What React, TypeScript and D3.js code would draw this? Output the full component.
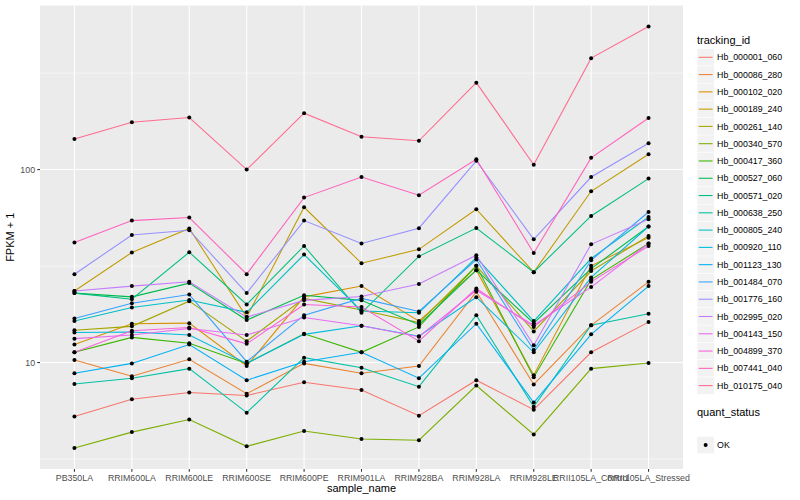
import React, { useEffect, useRef } from 'react';
import * as d3 from 'd3';

const samples = [
  'PB350LA',
  'RRIM600LA',
  'RRIM600LE',
  'RRIM600SE',
  'RRIM600PE',
  'RRIM901LA',
  'RRIM928BA',
  'RRIM928LA',
  'RRIM928LE',
  'RRII105LA_Control',
  'RRII105LA_Stressed',
];

const trackingIds = [
  'Hb_000001_060',
  'Hb_000086_280',
  'Hb_000102_020',
  'Hb_000189_240',
  'Hb_000261_140',
  'Hb_000340_570',
  'Hb_000417_360',
  'Hb_000527_060',
  'Hb_000571_020',
  'Hb_000638_250',
  'Hb_000805_240',
  'Hb_000920_110',
  'Hb_001123_130',
  'Hb_001484_070',
  'Hb_001776_160',
  'Hb_002995_020',
  'Hb_004143_150',
  'Hb_004899_370',
  'Hb_007441_040',
  'Hb_010175_040',
];

// FPKM + 1, one value per sample (same order as samples)
const hb000001_060 = [5.25, 6.45, 7.0, 6.75, 7.9, 7.2, 5.3, 8.1, 5.7, 11.3, 16.2];
const hb000086_280 = [10.3, 8.5, 10.4, 6.9, 9.9, 8.8, 9.6, 23.3, 7.7, 15.6, 26.2];
const hb000102_020 = [12.4, 15.9, 16.0, 9.6, 21.9, 24.9, 16.4, 30.1, 8.6, 31.7, 44.4];
const hb000189_240 = [23.5, 37.2, 49.5, 17.2, 63.8, 32.7, 38.6, 62.3, 29.4, 77.2, 120];
const hb000261_140 = [14.7, 15.4, 20.8, 12.9, 21.5, 18.7, 16.1, 31.7, 14.5, 29.8, 45.3];
const hb000340_570 = [3.61, 4.36, 5.07, 3.68, 4.42, 4.02, 3.96, 7.6, 4.24, 9.3, 9.95];
const hb000417_360 = [11.3, 13.5, 12.6, 9.9, 14.1, 11.3, 15.3, 31.7, 8.4, 26.9, 41.4];
const hb000527_060 = [22.9, 21.9, 25.8, 16.6, 22.3, 21.0, 15.7, 30.1, 16.0, 30.7, 50.7];
const hb000571_020 = [22.9, 21.3, 37.3, 20.0, 40.2, 18.1, 35.5, 49.8, 29.4, 57.5, 89.8];
const hb000638_250 = [7.75, 8.3, 9.3, 5.5, 10.6, 9.4, 7.5, 17.6, 5.9, 15.6, 17.9];
const hb000805_240 = [16.4, 19.3, 21.1, 18.2, 36.3, 18.5, 18.1, 35.0, 16.4, 34.6, 56.8];
const hb000920_110 = [14.3, 14.4, 13.9, 9.9, 14.0, 15.5, 13.7, 21.8, 11.3, 27.6, 50.7];
const hb001123_130 = [8.8, 9.9, 12.4, 8.1, 10.1, 11.3, 8.3, 15.9, 6.2, 14.0, 24.9];
const hb001484_070 = [16.9, 20.3, 22.5, 10.1, 17.6, 21.5, 18.4, 34.2, 11.6, 33.9, 60.3];
const hb001776_160 = [28.7, 45.8, 48.5, 22.9, 54.4, 41.4, 49.7, 111, 43.5, 91.5, 137];
const hb002995_020 = [23.5, 24.9, 26.2, 17.2, 21.0, 22.0, 25.5, 36.0, 12.3, 41.0, 55.3];
const hb004143_150 = [13.3, 13.9, 15.0, 13.9, 17.1, 15.5, 13.6, 23.7, 15.6, 24.6, 41.4];
const hb004899_370 = [11.3, 14.6, 15.2, 12.5, 20.0, 19.4, 12.9, 24.2, 15.3, 26.2, 40.2];
const hb007441_040 = [41.9, 54.4, 56.4, 28.7, 71.6, 91.5, 73.6, 113, 37.0, 115, 185];
const hb010175_040 = [144, 176, 186, 100, 196, 148, 141, 282, 106, 378, 551];

const fpkm = [
  hb000001_060, hb000086_280, hb000102_020, hb000189_240, hb000261_140,
  hb000340_570, hb000417_360, hb000527_060, hb000571_020, hb000638_250,
  hb000805_240, hb000920_110, hb001123_130, hb001484_070, hb001776_160,
  hb002995_020, hb004143_150, hb004899_370, hb007441_040, hb010175_040,
];

const yTicks = [10, 100];
const quantStatus = ['OK'];

// ggplot2 hue palette for 20 levels
const palette = [
  '#F8766D', '#EA8331', '#D89000', '#C09B00', '#A3A500',
  '#7CAE00', '#39B600', '#00BB4E', '#00BF7D', '#00C1A3',
  '#00BFC4', '#00BAE0', '#00B0F6', '#35A2FF', '#9590FF',
  '#C77CFF', '#E76BF3', '#FA62DB', '#FF62BC', '#FF6C91',
];

const W = 800;
const H = 500;
const panel = { left: 40, right: 683, top: 5.5, bottom: 469 };
const font = '"Liberation Sans", Arial, Helvetica, sans-serif';

function Chart() {
  const ref = useRef<SVGSVGElement>(null);

  useEffect(() => {
    if (!ref.current) return;
    const svg = d3.select(ref.current);
    svg.selectAll('*').remove();

    const x = d3
      .scalePoint<string>()
      .domain(samples)
      .range([panel.left, panel.right])
      .padding(0.6);

    const all = fpkm.flat();
    const [lo, hi] = d3.extent(all) as [number, number];
    const span = Math.log10(hi) - Math.log10(lo);
    const y = d3
      .scaleLog()
      .domain([
        Math.pow(10, Math.log10(lo) - span * 0.05),
        Math.pow(10, Math.log10(hi) + span * 0.05),
      ])
      .range([panel.bottom, panel.top]);

    // panel background
    svg
      .append('rect')
      .attr('x', panel.left)
      .attr('y', panel.top)
      .attr('width', panel.right - panel.left)
      .attr('height', panel.bottom - panel.top)
      .attr('fill', '#EBEBEB');

    const grid = svg.append('g');
    const minor = [Math.pow(10, 0.5), Math.pow(10, 1.5), Math.pow(10, 2.5)];
    grid
      .selectAll('line.minor')
      .data(minor.filter(v => y(v) >= panel.top && y(v) <= panel.bottom))
      .enter()
      .append('line')
      .attr('x1', panel.left)
      .attr('x2', panel.right)
      .attr('y1', d => y(d))
      .attr('y2', d => y(d))
      .attr('stroke', '#fff')
      .attr('stroke-width', 0.53);
    grid
      .selectAll('line.hmajor')
      .data(yTicks)
      .enter()
      .append('line')
      .attr('x1', panel.left)
      .attr('x2', panel.right)
      .attr('y1', d => y(d))
      .attr('y2', d => y(d))
      .attr('stroke', '#fff')
      .attr('stroke-width', 1.07);
    grid
      .selectAll('line.vmajor')
      .data(samples)
      .enter()
      .append('line')
      .attr('x1', d => x(d)!)
      .attr('x2', d => x(d)!)
      .attr('y1', panel.top)
      .attr('y2', panel.bottom)
      .attr('stroke', '#fff')
      .attr('stroke-width', 1.07);

    // series lines
    const line = d3
      .line<number>()
      .x((_, i) => x(samples[i])!)
      .y(d => y(d));

    svg
      .append('g')
      .selectAll('path')
      .data(fpkm)
      .enter()
      .append('path')
      .attr('d', d => line(d))
      .attr('fill', 'none')
      .attr('stroke', (_, i) => palette[i])
      .attr('stroke-width', 1.07);

    // points
    const pts: Array<[string, number]> = [];
    fpkm.forEach(s => s.forEach((v, i) => pts.push([samples[i], v])));
    svg
      .append('g')
      .selectAll('circle')
      .data(pts)
      .enter()
      .append('circle')
      .attr('cx', d => x(d[0])!)
      .attr('cy', d => y(d[1]))
      .attr('r', 2)
      .attr('fill', '#000');

    // x axis
    const xa = svg.append('g');
    samples.forEach(s => {
      xa.append('line')
        .attr('x1', x(s)!)
        .attr('x2', x(s)!)
        .attr('y1', panel.bottom)
        .attr('y2', panel.bottom + 2.75)
        .attr('stroke', '#333')
        .attr('stroke-width', 1.07);
      xa.append('text')
        .attr('x', x(s)!)
        .attr('y', panel.bottom + 11.5)
        .attr('text-anchor', 'middle')
        .attr('font-family', font)
        .attr('font-size', 8.8)
        .attr('fill', '#4D4D4D')
        .text(s);
    });
    svg
      .append('text')
      .attr('x', (panel.left + panel.right) / 2)
      .attr('y', 492)
      .attr('text-anchor', 'middle')
      .attr('font-family', font)
      .attr('font-size', 11)
      .attr('fill', '#000')
      .text('sample_name');

    // y axis
    const ya = svg.append('g');
    yTicks.forEach(t => {
      ya.append('line')
        .attr('x1', panel.left - 2.75)
        .attr('x2', panel.left)
        .attr('y1', y(t))
        .attr('y2', y(t))
        .attr('stroke', '#333')
        .attr('stroke-width', 1.07);
      ya.append('text')
        .attr('x', panel.left - 4.95)
        .attr('y', y(t) + 3.1)
        .attr('text-anchor', 'end')
        .attr('font-family', font)
        .attr('font-size', 8.8)
        .attr('fill', '#4D4D4D')
        .text(t);
    });
    svg
      .append('text')
      .attr('transform', `translate(14, ${(panel.top + panel.bottom) / 2}) rotate(-90)`)
      .attr('text-anchor', 'middle')
      .attr('font-family', font)
      .attr('font-size', 11)
      .attr('fill', '#000')
      .text('FPKM + 1');

    // legend: tracking_id
    const lx = 697;
    const key = 17.28;
    const leg = svg.append('g');
    leg
      .append('text')
      .attr('x', lx)
      .attr('y', 44)
      .attr('font-family', font)
      .attr('font-size', 11)
      .attr('fill', '#000')
      .text('tracking_id');
    trackingIds.forEach((id, i) => {
      const cy = 57.3 + i * key;
      leg
        .append('rect')
        .attr('x', lx)
        .attr('y', cy - key / 2)
        .attr('width', key)
        .attr('height', key)
        .attr('fill', '#F2F2F2')
        .attr('stroke', '#fff')
        .attr('stroke-width', 0.5);
      leg
        .append('line')
        .attr('x1', lx + 1.7)
        .attr('x2', lx + key - 1.7)
        .attr('y1', cy)
        .attr('y2', cy)
        .attr('stroke', palette[i])
        .attr('stroke-width', 1.07);
      leg
        .append('text')
        .attr('x', lx + key + 2.8)
        .attr('y', cy + 3.1)
        .attr('font-family', font)
        .attr('font-size', 8.8)
        .attr('fill', '#000')
        .text(id);
    });

    // legend: quant_status
    leg
      .append('text')
      .attr('x', lx)
      .attr('y', 415.5)
      .attr('font-family', font)
      .attr('font-size', 11)
      .attr('fill', '#000')
      .text('quant_status');
    quantStatus.forEach((q, i) => {
      const cy = 445 + i * key;
      leg
        .append('rect')
        .attr('x', lx)
        .attr('y', cy - key / 2)
        .attr('width', key)
        .attr('height', key)
        .attr('fill', '#F2F2F2')
        .attr('stroke', '#fff')
        .attr('stroke-width', 0.5);
      leg
        .append('circle')
        .attr('cx', lx + key / 2)
        .attr('cy', cy)
        .attr('r', 2)
        .attr('fill', '#000');
      leg
        .append('text')
        .attr('x', lx + key + 2.8)
        .attr('y', cy + 3.1)
        .attr('font-family', font)
        .attr('font-size', 8.8)
        .attr('fill', '#000')
        .text(q);
    });
  }, []);

  return (
    <svg
      ref={ref}
      width={W}
      height={H}
      style={{ position: 'absolute', left: 0, top: 0, background: '#fff' }}
    />
  );
}

export default function App() {
  return <Chart />;
}
